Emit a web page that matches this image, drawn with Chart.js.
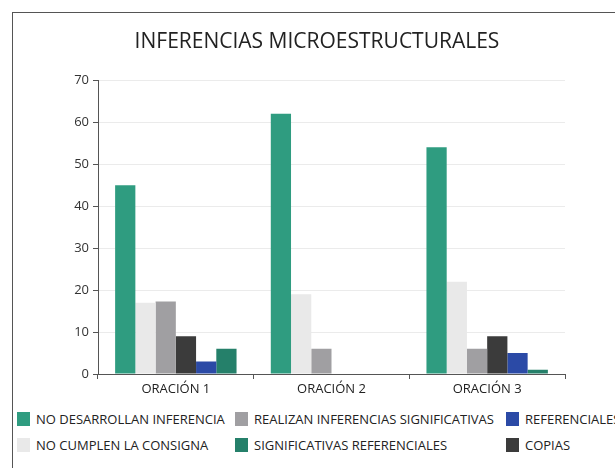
<!DOCTYPE html>
<html>
<head>
<meta charset="utf-8">
<script src="https://cdn.jsdelivr.net/npm/chart.js@4"></script>
<style>
  body { margin: 0; background: #fff; font-family: "Open Sans", sans-serif; }
  #frame { position: absolute; left: 12px; top: 12px; width: 603px; height: 456px;
           border-top: 1px solid #555; border-left: 1px solid #555; }
  #wrap { position: absolute; left: 0; top: 0; width: 615px; height: 400px; }
  #legend { position: absolute; left: 0; top: 405px; width: 615px; height: 60px; }
  .item { position: absolute; display: flex; align-items: center; font-size: 13px; color: #222; white-space: nowrap; }
  .sw { width: 13px; height: 14px; margin-right: 6px; }
</style>
</head>
<body>
<div id="frame"></div>
<div id="wrap"><canvas id="chart"></canvas></div>
<div id="legend"></div>
<script>
var categories = ["ORACIÓN 1", "ORACIÓN 2", "ORACIÓN 3"];
var noDesarrollan = [45, 62, 54];
var noCumplen = [17, 19, 22];
var realizan = [17.3, 6, 6];
var copias = [9, 0, 9];
var referenciales = [3, 0, 5];
var significativasRef = [6, 0, 1];
var yTicks = [0, 10, 20, 30, 40, 50, 60, 70];

var series = [
  { label: "NO DESARROLLAN INFERENCIA", data: noDesarrollan, color: "#2f9c80" },
  { label: "NO CUMPLEN LA CONSIGNA", data: noCumplen, color: "#e9e9e9" },
  { label: "REALIZAN INFERENCIAS SIGNIFICATIVAS", data: realizan, color: "#a09fa2" },
  { label: "COPIAS", data: copias, color: "#3b3b3b" },
  { label: "REFERENCIALES", data: referenciales, color: "#2b4aa6" },
  { label: "SIGNIFICATIVAS REFERENCIALES", data: significativasRef, color: "#25806a" }
];

// legend is laid out in columns, in this order
var legendOrder = [0, 1, 2, 5, 4, 3];
var legendCols = [17, 235, 506];
var legendRows = [5, 31];

var ctx = document.getElementById("chart").getContext("2d");

new Chart(ctx, {
  type: "bar",
  data: {
    labels: categories,
    datasets: series.map(function (s) {
      return {
        label: s.label,
        data: s.data,
        backgroundColor: s.color,
        borderWidth: 0,
        categoryPercentage: 0.78,
        barPercentage: 1
      };
    })
  },
  options: {
    responsive: true,
    maintainAspectRatio: false,
    animation: false,
    layout: { padding: { top: 29, right: 50, bottom: 0, left: 69 } },
    plugins: {
      legend: { display: false },
      tooltip: { enabled: false },
      title: {
        display: true,
        text: "INFERENCIAS MICROESTRUCTURALES",
        color: "#222",
        font: { family: "Open Sans", size: 21, weight: "normal", lineHeight: 1.2 },
        padding: { top: 0, bottom: 26 }
      }
    },
    scales: {
      x: {
        grid: { drawOnChartArea: false, tickColor: "#555", tickLength: 5, offset: true },
        border: { color: "#555", width: 1 },
        ticks: { color: "#222", padding: 2, font: { family: "Open Sans", size: 13 } },
        afterFit: function (scale) { scale.height = 26; }
      },
      y: {
        min: 0,
        max: 70,
        afterBuildTicks: function (scale) {
          scale.ticks = yTicks.map(function (v) { return { value: v }; });
        },
        grid: { color: "#ebebeb", tickColor: "#555", tickLength: 5 },
        border: { color: "#555", width: 1 },
        ticks: { color: "#333", padding: 4, font: { family: "Open Sans", size: 13 } },
        afterFit: function (scale) { scale.width = 29; }
      }
    }
  }
});

var legend = document.getElementById("legend");
legendOrder.forEach(function (idx, i) {
  var s = series[idx];
  var item = document.createElement("div");
  item.className = "item";
  item.style.left = legendCols[Math.floor(i / 2)] + "px";
  item.style.top = legendRows[i % 2] + "px";
  var sw = document.createElement("span");
  sw.className = "sw";
  sw.style.background = s.color;
  item.appendChild(sw);
  item.appendChild(document.createTextNode(s.label));
  legend.appendChild(item);
});
</script>
</body>
</html>
